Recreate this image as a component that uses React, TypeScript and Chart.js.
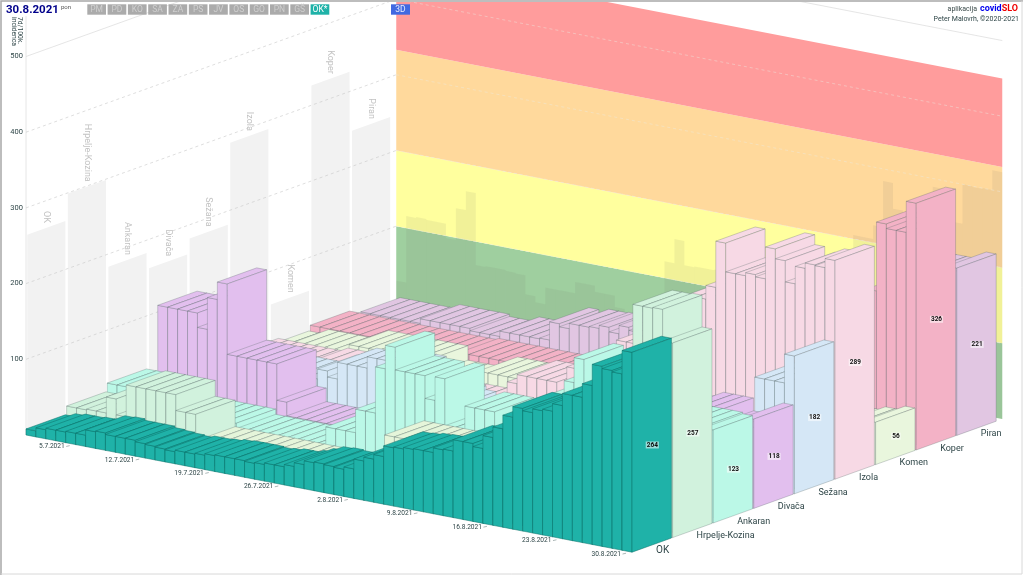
import React, { useEffect, useRef } from "react";
import { Chart, registerables, BarController } from "chart.js";

const FONT = "Roboto, sans-serif";

const dayLabels: string[] = [];
for (let d = 1; d <= 31; d++) dayLabels.push(`${d}.7.2021`);
for (let d = 1; d <= 30; d++) dayLabels.push(`${d}.8.2021`);

const tickLabels = ["5.7.2021", "12.7.2021", "19.7.2021", "26.7.2021", "2.8.2021", "9.8.2021", "16.8.2021", "23.8.2021", "30.8.2021"];
const seriesNames = ["OK", "Hrpelje-Kozina", "Ankaran", "Divača", "Sežana", "Izola", "Komen", "Koper", "Piran"];
const seriesColors = ["#1FB2A8", "#D1F2DD", "#BBF8E7", "#E2BFEE", "#D5E7F6", "#F7D9E5", "#E9F6DD", "#F3B2C6", "#E1C6E2"];
const buttonLabels = ["PM", "PD", "KO", "SA", "ZA", "PS", "JV", "OS", "GO", "PN", "GŠ", "OK*"];

const okValues = [8,12,14,14,15,15,22,23,21,21, 21,19,18,17,16,18,18,19,21,22, 22,22,21,22,24,24,27,32,37,38, 37,36,39,52,57,63,77,78,80,81, 81,87,88,103,103,99,116,130,148,162, 159,164,166,176,192,192,210,238,235,233,264];
const hrpeljeValues = [19,19,20,20,41,20,62,62,62,62, 62,41,41,6,6,6,6,6,6,6, 6,6,6,6,6,6,6,6,7,7, 7,8,62,62,62,62,62,62,60,55, 55,55,60,65,65,70,75,80,85,90, 100,110,120,130,140,150,160,298,298,299,257];
const ankaranValues = [30,30,18,18,18,15,10,10,10,10, 10,10,10,3,3,3,3,3,3,3, 3,3,28,28,28,59,59,120,151,121, 121,121,91,122,60,60,91,91,91,60, 60,60,110,110,110,110,150,183,125,125, 125,125,125,125,125,125,125,125,125,125,123];
const divacaValues = [0,116,116,116,116,97,139,162,69,69, 69,69,69,21,3,3,3,3,3,3, 3,3,6,8,10,10,10,12,12,12, 15,15,15,20,20,20,25,25,25,30, 30,30,35,35,35,40,40,45,60,70, 80,90,100,110,117,117,117,100,100,100,118];
const sezanaValues = [5,30,30,30,30,30,30,30,30,30, 30,30,30,43,35,57,57,57,72,72, 64,64,49,40,35,35,30,25,25,25, 22,22,20,20,20,20,20,20,20,20, 20,20,20,20,20,20,30,30,30,40, 40,50,50,60,70,80,90,144,144,144,182];
const izolaValues = [10,15,15,15,15,15,15,15,20,20, 20,20,20,20,10,10,10,10,10,10, 8,8,8,8,8,8,8,8,45,57, 57,57,57,30,80,80,80,80,80,128, 128,128,140,150,165,180,205,205,223,284, 246,246,250,247,289,276,248,271,278,277,289];
const komenValues = [3,3,10,10,10,10,10,10,24,24, 24,24,24,24,24,24,5,5,5,5, 5,22,22,22,22,22,22,22,20,20, 20,20,20,20,20,25,25,25,25,25, 30,30,30,30,30,35,35,35,35,35, 40,40,40,40,40,45,45,45,50,50,56];
const koperValues = [10,10,10,10,10,10,10,10,10,10, 10,10,10,10,10,12,12,12,12,12, 12,12,12,12,12,12,12,12,12,12, 14,14,15,15,16,18,20,22,25,30, 35,40,45,50,60,70,80,90,100,110, 120,130,140,150,160,170,200,291,285,285,326];
const piranValues = [0,11,11,11,11,11,11,17,17,17, 17,17,14,14,14,21,21,21,21,22, 46,42,49,49,50,54,48,59,55,55, 55,55,55,55,60,60,60,65,65,70, 70,75,80,85,90,95,100,110,120,130, 140,150,160,170,190,247,210,210,210,210,221];
const seriesValues = [okValues, hrpeljeValues, ankaranValues, divacaValues, sezanaValues, izolaValues, komenValues, koperValues, piranValues];

// Highest value of any municipality per day, shown as a shadow on the back wall
const peakPerDay = [28,116,117,116,116,97,139,164,69,70, 70,69,68,43,35,57,57,57,72,72, 64,64,49,40,40,38,38,122,154,122, 123,123,124,122,91,91,91,91,91,91, 128,128,140,150,165,180,205,205,223,284, 250,246,250,247,289,276,248,300,299,300,326];

const bandLimits = [0, 100, 200, 333, 450];
const bandColors = ["#9FCF9F", "#FFFF9E", "#FFD99C", "#FF9C9C"];
const gridValues = [100, 200, 300, 400, 500];

// Oblique projection of (scale x pixel, scale y pixel, series depth)
const DEPTH_X = 40.6;
const DEPTH_Y = 14.6;
const TIME_SHEAR = 0.1934;
const WALL_DEPTH = 9.12;

function projector(chart: any) {
  const left = chart.scales.x.left;
  return (xp: number, yp: number, s: number): [number, number] => [
    xp + DEPTH_X * s,
    yp + (xp - left) * TIME_SHEAR - DEPTH_Y * s,
  ];
}

function quad(ctx: CanvasRenderingContext2D, pts: [number, number][], fill: string, stroke?: string) {
  ctx.beginPath();
  ctx.moveTo(pts[0][0], pts[0][1]);
  for (let i = 1; i < pts.length; i++) ctx.lineTo(pts[i][0], pts[i][1]);
  ctx.closePath();
  ctx.fillStyle = fill;
  ctx.fill();
  if (stroke) {
    ctx.strokeStyle = stroke;
    ctx.lineWidth = 0.7;
    ctx.stroke();
  }
}

class Bar3DController extends (BarController as any) {
  static id = "bar3d";
  static defaults = { ...(BarController as any).defaults };
  static overrides = (BarController as any).overrides;
  draw() {
    const self = this as any;
    const chart = self.chart;
    const ctx: CanvasRenderingContext2D = chart.ctx;
    const P = projector(chart);
    const s = self.index;
    const xs = chart.scales.x;
    const ys = chart.scales.y;
    const step = xs.width / xs.getLabels().length;
    const baseColor = self.getDataset().backgroundColor;
    const edge = s === 0 ? "rgba(14,115,108,0.75)" : "rgba(85,105,105,0.42)";
    const n = self.getMeta().data.length;
    const y0 = ys.getPixelForValue(0);
    for (let i = 0; i < n; i++) {
      const v = self.getParsed(i).y;
      const a = xs.getPixelForValue(i) - step / 2;
      const b = a + step;
      const yv = ys.getPixelForValue(v);
      const color = s === 1 && i >= 13 && i <= 46 ? "#E5F5DA" : baseColor;
      const gap = 0.97;
      // long side, towards the viewer
      quad(ctx, [P(a, y0, s), P(b, y0, s), P(b, yv, s), P(a, yv, s)], color, edge);
      // top
      quad(ctx, [P(a, yv, s), P(b, yv, s), P(b, yv, s + gap), P(a, yv, s + gap)], color, edge);
      // end face
      quad(ctx, [P(b, y0, s), P(b, y0, s + gap), P(b, yv, s + gap), P(b, yv, s)], color, edge);
    }
  }
}

function text(ctx: CanvasRenderingContext2D, t: string, x: number, y: number, font: string, color: string, align: CanvasTextAlign = "left", rot = 0) {
  ctx.save();
  ctx.translate(x, y);
  if (rot) ctx.rotate(rot);
  ctx.font = font;
  ctx.fillStyle = color;
  ctx.textAlign = align;
  ctx.textBaseline = "middle";
  ctx.fillText(t, 0, 0);
  ctx.restore();
}

const wallPlugin = {
  id: "walls",
  beforeDatasetsDraw(chart: any) {
    const ctx: CanvasRenderingContext2D = chart.ctx;
    const P = projector(chart);
    const xs = chart.scales.x;
    const ys = chart.scales.y;
    const xl = xs.left;
    const xr = xs.right;
    const y0 = ys.getPixelForValue(0);
    ctx.save();
    ctx.beginPath();
    ctx.rect(2, 2, 1020, 572);
    ctx.clip();

    // left wall line
    ctx.strokeStyle = "#E6E6E6";
    ctx.lineWidth = 1;
    ctx.beginPath();
    ctx.moveTo(xl, 16);
    ctx.lineTo(xl, y0);
    ctx.stroke();

    // left wall slabs: highest value of each series, with its name
    seriesValues.forEach((vals, s) => {
      const vy = ys.getPixelForValue(Math.max(...vals));
      quad(ctx, [P(xl, y0, s + 0.03), P(xl, y0, s + 0.97), P(xl, vy, s + 0.97), P(xl, vy, s + 0.03)], "#F2F2F2");
      const c = P(xl, vy, s + 0.5);
      text(ctx, seriesNames[s], c[0], c[1] - 5, `9px ${FONT}`, "#C2C2C2", "right", Math.PI / 2);
    });

    // grid lines on the left wall
    gridValues.forEach((v) => {
      const y = ys.getPixelForValue(v);
      const a = P(xl, y, 0);
      const b = P(xl, y, WALL_DEPTH);
      ctx.strokeStyle = v === 500 ? "#DEDEDE" : "rgba(200,200,200,0.75)";
      ctx.lineWidth = 0.8;
      ctx.setLineDash(v === 500 ? [] : [3, 3]);
      ctx.beginPath();
      ctx.moveTo(a[0], a[1]);
      ctx.lineTo(b[0], b[1]);
      ctx.stroke();
    });
    ctx.setLineDash([]);

    // back wall bands
    for (let b = 0; b < bandColors.length; b++) {
      const y1 = ys.getPixelForValue(bandLimits[b]);
      const y2 = ys.getPixelForValue(bandLimits[b + 1]);
      quad(ctx, [P(xl, y1, WALL_DEPTH), P(xr, y1, WALL_DEPTH), P(xr, y2, WALL_DEPTH), P(xl, y2, WALL_DEPTH)], bandColors[b]);
    }

    // peak shadow on the back wall
    const step = xs.width / peakPerDay.length;
    peakPerDay.forEach((v, i) => {
      const a = xs.getPixelForValue(i) - step / 2;
      const yv = ys.getPixelForValue(v);
      quad(ctx, [P(a, y0, WALL_DEPTH), P(a + step, y0, WALL_DEPTH), P(a + step, yv, WALL_DEPTH), P(a, yv, WALL_DEPTH)], "rgba(120,120,110,0.1)");
    });

    // grid lines on the back wall
    gridValues.forEach((v) => {
      const y = ys.getPixelForValue(v);
      const b = P(xl, y, WALL_DEPTH);
      const c = P(xr, y, WALL_DEPTH);
      ctx.strokeStyle = v === 500 ? "#DEDEDE" : "rgba(235,235,225,0.55)";
      ctx.lineWidth = 0.8;
      ctx.setLineDash(v === 500 ? [] : [3, 3]);
      ctx.beginPath();
      ctx.moveTo(b[0], b[1]);
      ctx.lineTo(c[0], c[1]);
      ctx.stroke();
    });
    ctx.setLineDash([]);
    ctx.restore();
  },
  afterDatasetsDraw(chart: any) {
    const ctx: CanvasRenderingContext2D = chart.ctx;
    const P = projector(chart);
    const xs = chart.scales.x;
    const ys = chart.scales.y;
    const y0 = ys.getPixelForValue(0);
    const step = xs.width / dayLabels.length;
    const last = dayLabels.length - 1;
    const xEnd = xs.getPixelForValue(last) + step / 2;

    // date ticks along the front edge
    tickLabels.forEach((lab) => {
      const i = dayLabels.indexOf(lab);
      const p = P(xs.getPixelForValue(i), y0, 0);
      ctx.strokeStyle = "#8A9A9A";
      ctx.lineWidth = 0.7;
      ctx.beginPath();
      ctx.moveTo(p[0] - 4.5, p[1] + 2.8);
      ctx.lineTo(p[0] - 1, p[1] + 2);
      ctx.stroke();
      text(ctx, lab, p[0] - 6, p[1] + 2.8, `6.6px ${FONT}`, "#2F4648", "right");
    });

    // municipality names and current values
    seriesValues.forEach((vals, s) => {
      const p = P(xEnd, y0, s);
      text(ctx, seriesNames[s], p[0] + 24, p[1] - 1.5, `${s === 0 ? 10 : 9}px ${FONT}`, "#2F4648");
      const v = vals[last];
      const yMid = ys.getPixelForValue(v / 2);
      const c = P(xEnd, yMid, s + 0.5);
      const str = String(v);
      ctx.font = `bold 6.5px ${FONT}`;
      const w = ctx.measureText(str).width;
      ctx.fillStyle = "rgba(255,255,255,0.55)";
      ctx.fillRect(c[0] - w / 2 - 1, c[1] - 3.5, w + 2, 7);
      text(ctx, str, c[0], c[1], `bold 6.5px ${FONT}`, "#111", "center");
    });

    // header
    text(ctx, dayLabels[last], 6, 10, `bold 11.5px ${FONT}`, "#00008B");
    text(ctx, "pon", 61, 7, `6px ${FONT}`, "#555");
    buttonLabels.forEach((lab, i) => {
      const x = 87.3 + i * 20.3;
      const active = i === buttonLabels.length - 1;
      ctx.fillStyle = active ? "#1FB2A8" : "#ABABAB";
      ctx.fillRect(x, 4.3, 18.7, 10.4);
      text(ctx, lab, x + 9.35, 9.8, `8.5px ${FONT}`, active ? "#FFFFFF" : "#CFCFCF", "center");
    });
    ctx.fillStyle = "#4169E1";
    ctx.fillRect(391, 4.3, 19, 10.4);
    text(ctx, "3D", 400.5, 9.8, `8.5px ${FONT}`, "#E8ECFF", "center");

    text(ctx, "7d/100k.", 20, 17, `6.8px ${FONT}`, "#2F4648", "left", Math.PI / 2);
    text(ctx, "incidenca", 13.5, 17, `6.8px ${FONT}`, "#2F4648", "left", Math.PI / 2);

    // credits
    const slo = 1018;
    ctx.font = `bold 9px ${FONT}`;
    const sloW = ctx.measureText("SLO").width;
    const covW = ctx.measureText("covid").width;
    text(ctx, "SLO", slo, 9, `bold 9px ${FONT}`, "#F00000", "right");
    text(ctx, "covid", slo - sloW, 9, `bold 9px ${FONT}`, "#0000F0", "right");
    text(ctx, "aplikacija", slo - sloW - covW - 3, 9, `7px ${FONT}`, "#3A4A4A", "right");
    text(ctx, "Peter Malovrh, ©2020-2021", 1019, 19, `7px ${FONT}`, "#2F4648", "right");

    // frame
    ctx.strokeStyle = "#A8A8A8";
    ctx.lineWidth = 1.5;
    ctx.beginPath();
    ctx.moveTo(1, 575);
    ctx.lineTo(1, 1);
    ctx.lineTo(1023, 1);
    ctx.stroke();
    ctx.strokeStyle = "#D8D8D8";
    ctx.lineWidth = 1;
    ctx.beginPath();
    ctx.moveTo(1022, 1);
    ctx.lineTo(1022, 574);
    ctx.lineTo(1, 574);
    ctx.stroke();
  },
};

export default function App() {
  const ref = useRef<HTMLCanvasElement>(null);
  useEffect(() => {
    Chart.register(...registerables, Bar3DController as any);
    const chart = new Chart(ref.current as HTMLCanvasElement, {
      type: "bar3d" as any,
      data: {
        labels: dayLabels,
        datasets: seriesValues.map((vals, s) => ({
          label: seriesNames[s],
          data: vals,
          backgroundColor: seriesColors[s],
          clip: false as any,
        })),
      },
      options: {
        responsive: false,
        animation: false,
        layout: { padding: { left: 0, right: 392, top: 2, bottom: 141 } },
        plugins: { legend: { display: false }, tooltip: { enabled: false } },
        events: [],
        scales: {
          x: { type: "category", offset: true, display: false },
          y: {
            type: "linear",
            min: 0,
            max: 572,
            grid: { display: false, drawTicks: false },
            border: { display: false },
            ticks: {
              stepSize: 100,
              includeBounds: false,
              padding: 3,
              color: "#2F4648",
              font: { family: "Roboto", size: 7.5 },
              callback: (v: any) => (v === 0 ? "" : String(v)),
            },
            afterFit: (s: any) => {
              s.width = 26;
              s.paddingTop = 0;
              s.paddingBottom = 0;
            },
          },
        },
      } as any,
      plugins: [wallPlugin],
    } as any);
    return () => chart.destroy();
  }, []);
  return (
    <div style={{ position: "fixed", left: 0, top: 0, width: 1024, height: 576, background: "#fff" }}>
      <canvas ref={ref} width={1024} height={576} style={{ display: "block" }} />
    </div>
  );
}
